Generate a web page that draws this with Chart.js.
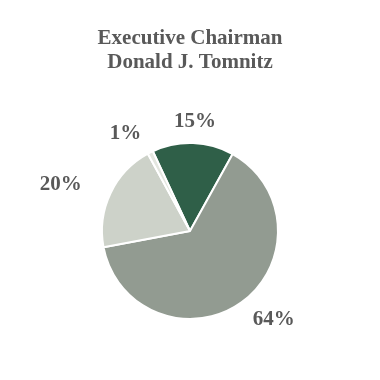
<!DOCTYPE html>
<html><head><meta charset="utf-8">
<script src="https://cdn.jsdelivr.net/npm/chart.js@4"></script>
<style>html,body{margin:0;padding:0;background:#fff;}#wrap{width:380px;height:380px;}</style>
</head><body><div id="wrap"><canvas id="c" width="380" height="380"></canvas></div>
<script>
const titleLines = ["Executive Chairman", "Donald J. Tomnitz"];
const categories = ["A", "B", "C", "D"];
const values = [15, 64, 20, 1];
const labelTexts = ["15%", "64%", "20%", "1%"];
const colors = ["#2f5f48", "#929b91", "#cdd2c9", "#e3e6df"];

const labelPlugin = {
  id: 'outLabels',
  afterDatasetsDraw(chart) {
    const ctx = chart.ctx;
    const meta = chart.getDatasetMeta(0);
    ctx.save();
    ctx.font = 'bold 21px "Liberation Serif", "Times New Roman", serif';
    ctx.fillStyle = '#595959';
    ctx.textAlign = 'center';
    ctx.textBaseline = 'middle';
    meta.data.forEach((arc, i) => {
      const p = arc.getProps(['x','y','startAngle','endAngle','outerRadius'], true);
      const mid = (p.startAngle + p.endAngle) / 2;
      const rx = p.outerRadius + 55;
      const ry = p.outerRadius + 21;
      const x = p.x + Math.cos(mid) * rx;
      const y = p.y + Math.sin(mid) * ry;
      ctx.fillText(labelTexts[i], x, y);
    });
    ctx.restore();
  }
};

new Chart(document.getElementById('c'), {
  type: 'pie',
  data: {
    labels: categories,
    datasets: [{
      data: values,
      backgroundColor: colors,
      borderColor: '#ffffff',
      borderWidth: 2
    }]
  },
  options: {
    responsive: false,
    animation: false,
    rotation: -25,
    layout: { padding: { bottom: 60 } },
    plugins: {
      legend: { display: false },
      tooltip: { enabled: false },
      title: {
        display: true,
        text: titleLines,
        color: '#595959',
        font: { family: '"Liberation Serif", "Times New Roman", serif', size: 21, weight: 'bold', lineHeight: 1.143 },
        padding: { top: 27, bottom: 67 }
      }
    }
  },
  plugins: [labelPlugin]
});
</script>
</body></html>
